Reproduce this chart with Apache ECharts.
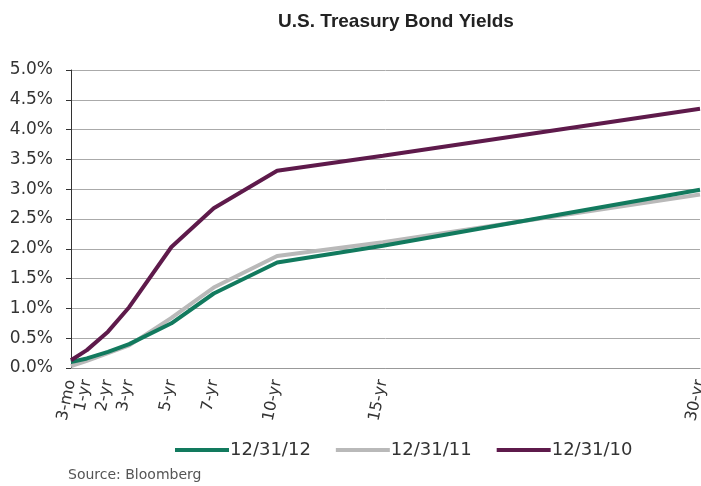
<!DOCTYPE html>
<html>
<head>
<meta charset="utf-8">
<script src="https://cdn.jsdelivr.net/npm/echarts@6/dist/echarts.min.js"></script>
<style>
  html, body { margin: 0; padding: 0; background: #fff; }
  #chart { width: 701px; height: 486px; }
</style>
</head>
<body>
<div id="chart"></div>
<script>
// Maturities in years and their tick labels
const maturities = [0.25, 1, 2, 3, 5, 7, 10, 15, 30];
const maturityLabels = ['3-mo', '1-yr', '2-yr', '3-yr', '5-yr', '7-yr', '10-yr', '15-yr', '30-yr'];

// Yields (%) by curve date
const yields2012 = [0.10, 0.16, 0.27, 0.40, 0.75, 1.25, 1.77, 2.05, 2.99];
const yields2011 = [0.03, 0.12, 0.25, 0.38, 0.84, 1.35, 1.88, 2.11, 2.91];
const yields2010 = [0.13, 0.30, 0.61, 1.02, 2.03, 2.68, 3.31, 3.56, 4.35];

const seriesNames = ['12/31/12', '12/31/11', '12/31/10'];
const seriesColors = ['#127a5e', '#b9b9b9', '#5e1a4b'];
const yTicks = [0, 0.5, 1, 1.5, 2, 2.5, 3, 3.5, 4, 4.5, 5];

const toPairs = arr => arr.map((v, i) => [maturities[i], v]);
const labelFor = v => maturityLabels[maturities.indexOf(v)] || '';

// The 1-yr label sits so close to 3-mo that it is drawn on its own axis
// (same scale), so the overlap check does not drop it.
const closeValues = [maturities[1]];
const mainValues = maturities.filter(v => !closeValues.includes(v));

const xLabelStyle = {
  formatter: labelFor,
  showMinLabel: true, showMaxLabel: true, hideOverlap: false,
  rotate: 78, margin: 12,
  fontFamily: 'DejaVu Sans', fontSize: 16, color: '#333'
};

const chart = echarts.init(document.getElementById('chart'));
chart.setOption({
  backgroundColor: '#fff',
  animation: false,
  title: {
    text: 'U.S. Treasury Bond Yields',
    left: 391, top: 7, textAlign: 'center',
    textStyle: { fontFamily: 'Liberation Sans Narrow, Liberation Sans, sans-serif', fontWeight: 'bold', fontSize: 19, color: '#222' }
  },
  legend: {
    data: seriesNames,
    left: 170, top: 436,
    itemWidth: 54, itemHeight: 4, itemGap: 25,
    icon: 'rect',
    textStyle: { fontFamily: 'DejaVu Sans', fontSize: 18, color: '#333', padding: [0, 0, 0, -4] }
  },
  graphic: [{
    type: 'text', left: 68, top: 468,
    style: { text: 'Source: Bloomberg', fontFamily: 'DejaVu Sans', fontSize: 14, fill: '#555' }
  }],
  grid: { left: 71, right: 1, top: 70, bottom: 118, outerBoundsMode: 'none', containLabel: false },
  xAxis: [{
    type: 'value', min: 0.25, max: 30,
    axisLine: { show: true, lineStyle: { color: '#999', width: 1 } },
    axisTick: { show: false },
    splitLine: { show: false },
    axisLabel: Object.assign({ customValues: mainValues }, xLabelStyle)
  }, {
    type: 'value', min: 0.25, max: 30, position: 'bottom',
    axisLine: { show: false },
    axisTick: { show: false },
    splitLine: { show: false },
    axisLabel: Object.assign({ customValues: closeValues }, xLabelStyle)
  }],
  yAxis: {
    type: 'value', min: 0, max: 5, interval: 0.5,
    axisLine: { show: true, lineStyle: { color: '#333', width: 1 } },
    axisTick: { show: true, length: 5, lineStyle: { color: '#333' } },
    splitLine: { lineStyle: { color: '#aaa', width: 1 } },
    axisLabel: {
      formatter: v => yTicks.includes(v) ? v.toFixed(1) + '%' : '',
      margin: 18,
      fontFamily: 'DejaVu Sans', fontSize: 17, color: '#333'
    }
  },
  series: [yields2012, yields2011, yields2010].map((d, i) => ({
    name: seriesNames[i],
    type: 'line',
    xAxisIndex: 0,
    data: toPairs(d),
    showSymbol: false,
    symbol: 'none',
    lineStyle: { color: seriesColors[i], width: 4 },
    itemStyle: { color: seriesColors[i] },
    z: i === 1 ? 1 : 2
  }))
});
</script>
</body>
</html>
